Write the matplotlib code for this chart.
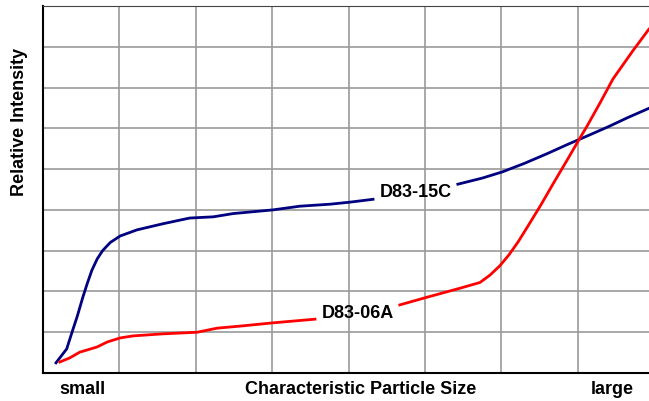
import numpy as np
import matplotlib
matplotlib.use("Agg")
import matplotlib.pyplot as plt

plt.rcParams['font.family'] = ['Liberation Sans', 'DejaVu Sans']

# D83-15C (blue), gap where the label sits
blue_x = [0.17, 0.31, 0.38, 0.45, 0.52, 0.58, 0.64, 0.71, 0.78, 0.88, 1.01, 1.23, 1.57, 1.92, 2.23, 2.49, 3.01, 3.36,
          3.76, 4.02, 4.32, np.nan, 5.43, 5.75, 6.01, 6.30, 6.60, 6.86, 7.12, 7.40, 7.65, 7.93]
blue_y = [0.25, 0.59, 1.00, 1.40, 1.85, 2.20, 2.52, 2.80, 3.00, 3.20, 3.36, 3.51, 3.66, 3.80, 3.83, 3.91, 4.00, 4.09,
          4.14, 4.19, 4.26, np.nan, 4.63, 4.78, 4.93, 5.14, 5.38, 5.60, 5.81, 6.04, 6.26, 6.49]

# D83-06A (red)
red_x = [0.22, 0.35, 0.48, 0.71, 0.84, 1.01, 1.18, 1.57, 2.02, 2.28, 2.58, 3.01, 3.56,
         np.nan, 4.67, 5.03, 5.46, 5.72, 5.85, 5.98, 6.10, 6.22, 6.34, 6.51, 6.68, 6.86, 7.04, 7.12, 7.29, 7.46,
         7.72, 7.93]
red_y = [0.27, 0.37, 0.51, 0.64, 0.76, 0.86, 0.91, 0.96, 1.00, 1.10, 1.15, 1.23, 1.32,
         np.nan, 1.67, 1.86, 2.08, 2.22, 2.40, 2.63, 2.90, 3.22, 3.58, 4.10, 4.65, 5.22, 5.80, 6.05, 6.62, 7.21,
         7.90, 8.43]

fig = plt.figure(figsize=(6.49, 4.02), dpi=100)
ax = fig.add_axes([43 / 649, 28 / 402, 8 * 76.4 / 649, 367 / 402])
ax.set_xlim(0, 8)
ax.set_ylim(0, 9)
ax.set_xticks(range(1, 8))
ax.set_yticks(range(1, 9))
ax.grid(True, color="#999999", linewidth=1.2)
ax.tick_params(length=0, labelbottom=False, labelleft=False)
for s in ["left", "bottom"]:
    ax.spines[s].set_linewidth(1.5)
ax.spines["top"].set_color("#444444")
ax.spines["right"].set_visible(False)

ax.plot(blue_x, blue_y, color="#000080", linewidth=2.0, clip_on=False)
ax.plot(red_x, red_y, color="#ff0000", linewidth=2.0, clip_on=False)

ax.text(4.88, 4.45, "D83-15C", ha="center", va="center", fontsize=13, fontweight="bold")
ax.text(4.12, 1.48, "D83-06A", ha="center", va="center", fontsize=13, fontweight="bold")

fig.text(82 / 649, 1 - 390 / 402, "small", ha="center", va="center", fontsize=13, fontweight="bold")
fig.text(361 / 649, 1 - 390 / 402, "Characteristic Particle Size", ha="center", va="center", fontsize=13, fontweight="bold")
fig.text(612 / 649, 1 - 390 / 402, "large", ha="center", va="center", fontsize=13, fontweight="bold")
fig.text(20 / 649, 1 - 122 / 402, "Relative Intensity", ha="center", va="center", rotation=90, fontsize=13, fontweight="bold")

fig.savefig("out.png", dpi=100)
